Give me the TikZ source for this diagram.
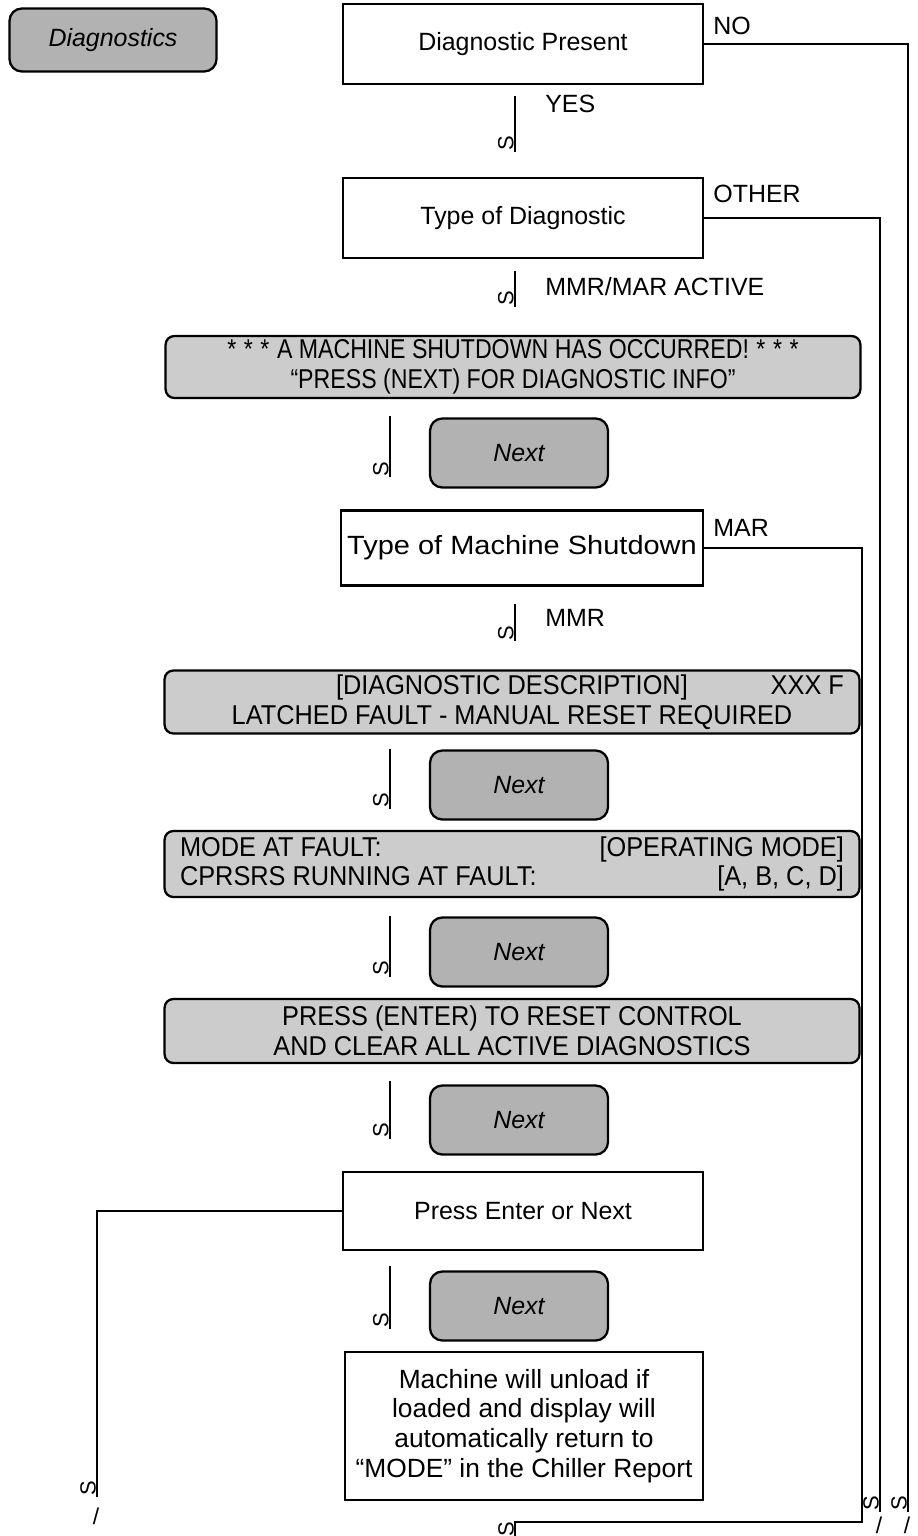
\documentclass[tikz,border=0pt]{standalone}
\usepackage{fontspec}
\setmainfont{Liberation Sans}
\newfontfamily\dispfont[FakeStretch=0.93]{Liberation Sans}
\newfontfamily\narrowfont[FakeStretch=0.85]{Liberation Sans}
\newfontfamily\widefont[FakeStretch=1.1]{Liberation Sans}
\usetikzlibrary{calc}
\definecolor{keygray}{gray}{0.70}
\definecolor{dispgray}{gray}{0.80}

\begin{document}
\begin{tikzpicture}[x=0.02cm, y=-0.02cm,
    every node/.style={font=\fontsize{14.2}{17}\selectfont},
    stepbox/.style={draw, line width=1.3pt, fill=white, align=center, minimum width=7.2cm, minimum height=1.6cm},
    display/.style={draw, line width=1.3pt, fill=dispgray, rounded corners=5pt, align=center, inner ysep=1pt, minimum width=13.9cm, minimum height=1.26cm, font=\fontsize{15.5}{17}\selectfont\dispfont},
    key/.style={draw, line width=1.3pt, fill=keygray, rounded corners=7pt, minimum width=3.56cm, minimum height=1.38cm, font=\fontsize{14.2}{17}\selectfont\itshape},
    link/.style={line width=1.5pt},
    return/.style={line width=1.3pt},
    glyph/.style={rotate=90, inner sep=0pt, anchor=south west, font=\fontsize{12.5}{12.5}\selectfont},
    tail/.style={font=\fontsize{13}{13}\selectfont, inner sep=0pt},
    answer/.style={anchor=west, inner sep=0pt}]

    \clip (0,0) rectangle (918,1536);

    % Menu key
    \node[key, minimum width=4.14cm, minimum height=1.26cm] (diagkey) at (113,40) {Diagnostics};

    % Decisions and displays
    \node[stepbox] (present) at (523,44) {Diagnostic Present};
    \node[stepbox] (typediag) at (523,218) {Type of Diagnostic};
    \node[display, minimum height=1.24cm, font=\fontsize{15.5}{17}\selectfont\narrowfont] (shutdown) at (513,367) {*\;*\;*\;A MACHINE SHUTDOWN HAS OCCURRED!\;*\;*\;*\\“PRESS (NEXT) FOR DIAGNOSTIC INFO”};
    \node[key] (next1) at (519,453) {Next};
    \node[stepbox, minimum width=7.24cm, minimum height=1.5cm, inner xsep=1pt, font=\fontsize{15}{17}\selectfont\widefont] (typeshut) at (522,548) {Type of Machine Shutdown};
    \node[display] (fault) at (512,702) {\makebox[13.28cm][s]{\hspace{3.12cm}[DIAGNOSTIC DESCRIPTION]\hfill XXX F}\\LATCHED FAULT - MANUAL RESET REQUIRED};
    \node[key] (next2) at (519,785) {Next};
    \node[display, minimum height=1.32cm] (mode) at (512,864) {\makebox[13.28cm][s]{MODE AT FAULT:\hfill [OPERATING MODE]}\\\makebox[13.28cm][s]{CPRSRS RUNNING AT FAULT:\hfill [A, B, C, D]}};
    \node[key] (next3) at (519,952) {Next};
    \node[display, minimum height=1.28cm] (reset) at (512,1031) {PRESS (ENTER) TO RESET CONTROL\\AND CLEAR ALL ACTIVE DIAGNOSTICS};
    \node[key] (next4) at (519,1120) {Next};
    \node[stepbox, minimum height=1.56cm] (pressenter) at (523,1211) {Press Enter or Next};
    \node[key] (next5) at (519,1306) {Next};
    \node[stepbox, minimum width=7.16cm, minimum height=2.96cm, font=\fontsize{15}{17}\selectfont] (unload) at (524,1426) {Machine will unload if\\loaded and display will\\automatically return to\\“MODE” in the Chiller Report};

    % Downward links
    \draw[link] ($(present.south)+(-8,11)$) -- ($(present.south |- typediag.north)+(-8,-25)$) node[glyph] {S};
    \draw[link] ($(typediag.south)+(-8,12)$) -- ($(typediag.south |- shutdown.north)+(-8,-28)$) node[glyph] {S};
    \draw[link] ($(shutdown.south)+(-123,17)$) -- ($(shutdown.south |- typeshut.north)+(-123,-32)$) node[glyph] {S};
    \draw[link] ($(typeshut.south)+(-7,17)$) -- ($(typeshut.south |- fault.north)+(-7,-28)$) node[glyph] {S};
    \draw[link] ($(fault.south)+(-122,14)$) -- ($(fault.south |- mode.north)+(-122,-21)$) node[glyph] {S};
    \draw[link] ($(mode.south)+(-122,18)$) -- ($(mode.south |- reset.north)+(-122,-21)$) node[glyph] {S};
    \draw[link] ($(reset.south)+(-122,17)$) -- ($(reset.south |- pressenter.north)+(-122,-32)$) node[glyph] {S};
    \draw[link] ($(pressenter.south)+(-133,15)$) -- ($(pressenter.south |- unload.north)+(-133,-22)$) node[glyph] {S};

    % Link labels
    \node[answer] (yes) at (545,104) {YES};
    \node[answer] (active) at (545,287) {MMR/MAR ACTIVE};
    \node[answer] (mmr) at (545,618) {MMR};
    \node[answer] (no) at (713,26) {NO};
    \node[answer] (other) at (713,194) {OTHER};
    \node[answer] (mar) at (713,528) {MAR};

    % Return lines
    \coordinate (noend) at (908,1512);
    \coordinate (otherend) at (880,1512);
    \coordinate (marturn) at (862,1522);
    \coordinate (marend) at (515,1538);
    \coordinate (leftend) at (97,1497);
    \draw[return] (present.east) -| (noend) node[glyph] {S};
    \draw[return] (typediag.east) -| (otherend) node[glyph] {S};
    \draw[return] (typeshut.east) -| (marturn) -| (marend) node[glyph] {S};
    \draw[return] (pressenter.west) -| (leftend) node[glyph] {S};

    % Broken tails
    \node[tail] (tail1) at (907,1525) {/};
    \node[tail] (tail2) at (879,1525) {/};
    \node[tail] (tail3) at (96,1516) {/};
\end{tikzpicture}
\end{document}
